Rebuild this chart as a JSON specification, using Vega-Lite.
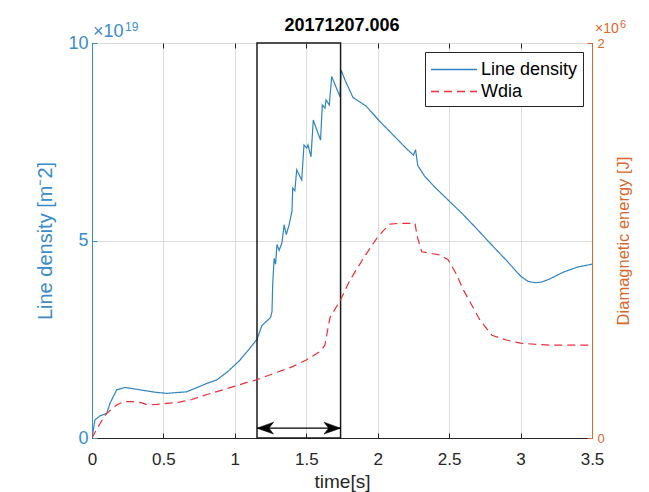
{
  "$schema": "https://vega.github.io/schema/vega-lite/v6.json",
  "width": 500,
  "height": 395,
  "autosize": "none",
  "padding": {"left": 92, "top": 43, "right": 57, "bottom": 54},
  "title": {"text": "20171207.006", "fontSize": 18, "fontWeight": "bold", "font": "Liberation Sans", "color": "#000000", "offset": -16},
  "config": {
    "font": "Liberation Sans",
    "view": {"stroke": "#000000", "strokeWidth": 1},
    "axis": {"labelFont": "Liberation Sans", "titleFont": "Liberation Sans", "titleFontWeight": "normal"}
  },
  "datasets": {
    "density": [
      {"t": 0, "v": 0, "series": "Line density"},
      {"t": 0.021, "v": 0.46, "series": "Line density"},
      {"t": 0.056, "v": 0.56, "series": "Line density"},
      {"t": 0.103, "v": 0.625, "series": "Line density"},
      {"t": 0.126, "v": 0.88, "series": "Line density"},
      {"t": 0.173, "v": 1.22, "series": "Line density"},
      {"t": 0.231, "v": 1.28, "series": "Line density"},
      {"t": 0.336, "v": 1.22, "series": "Line density"},
      {"t": 0.44, "v": 1.16, "series": "Line density"},
      {"t": 0.523, "v": 1.13, "series": "Line density"},
      {"t": 0.663, "v": 1.17, "series": "Line density"},
      {"t": 0.803, "v": 1.38, "series": "Line density"},
      {"t": 0.873, "v": 1.47, "series": "Line density"},
      {"t": 0.95, "v": 1.68, "series": "Line density"},
      {"t": 1.03, "v": 1.95, "series": "Line density"},
      {"t": 1.1, "v": 2.25, "series": "Line density"},
      {"t": 1.155, "v": 2.5, "series": "Line density"},
      {"t": 1.17, "v": 2.65, "series": "Line density"},
      {"t": 1.19, "v": 2.85, "series": "Line density"},
      {"t": 1.22, "v": 2.95, "series": "Line density"},
      {"t": 1.25, "v": 3.05, "series": "Line density"},
      {"t": 1.26, "v": 3.2, "series": "Line density"},
      {"t": 1.265, "v": 3.9, "series": "Line density"},
      {"t": 1.275, "v": 4.55, "series": "Line density"},
      {"t": 1.285, "v": 4.4, "series": "Line density"},
      {"t": 1.295, "v": 4.9, "series": "Line density"},
      {"t": 1.31, "v": 4.75, "series": "Line density"},
      {"t": 1.33, "v": 4.95, "series": "Line density"},
      {"t": 1.345, "v": 5.4, "series": "Line density"},
      {"t": 1.36, "v": 5.15, "series": "Line density"},
      {"t": 1.38, "v": 5.4, "series": "Line density"},
      {"t": 1.4, "v": 5.75, "series": "Line density"},
      {"t": 1.405, "v": 6.33, "series": "Line density"},
      {"t": 1.42, "v": 6.26, "series": "Line density"},
      {"t": 1.433, "v": 6.79, "series": "Line density"},
      {"t": 1.468, "v": 6.53, "series": "Line density"},
      {"t": 1.484, "v": 7.42, "series": "Line density"},
      {"t": 1.503, "v": 7.34, "series": "Line density"},
      {"t": 1.512, "v": 7.42, "series": "Line density"},
      {"t": 1.533, "v": 7.12, "series": "Line density"},
      {"t": 1.549, "v": 8.05, "series": "Line density"},
      {"t": 1.6, "v": 7.54, "series": "Line density"},
      {"t": 1.612, "v": 8.43, "series": "Line density"},
      {"t": 1.631, "v": 8.35, "series": "Line density"},
      {"t": 1.638, "v": 8.56, "series": "Line density"},
      {"t": 1.661, "v": 8.43, "series": "Line density"},
      {"t": 1.678, "v": 9.15, "series": "Line density"},
      {"t": 1.736, "v": 8.64, "series": "Line density"},
      {"t": 1.743, "v": 9.32, "series": "Line density"},
      {"t": 1.771, "v": 9.06, "series": "Line density"},
      {"t": 1.827, "v": 8.62, "series": "Line density"},
      {"t": 1.92, "v": 8.4, "series": "Line density"},
      {"t": 2.016, "v": 8.01, "series": "Line density"},
      {"t": 2.1, "v": 7.7, "series": "Line density"},
      {"t": 2.2, "v": 7.33, "series": "Line density"},
      {"t": 2.25, "v": 7.16, "series": "Line density"},
      {"t": 2.265, "v": 7.3, "series": "Line density"},
      {"t": 2.28, "v": 6.9, "series": "Line density"},
      {"t": 2.33, "v": 6.62, "series": "Line density"},
      {"t": 2.4, "v": 6.35, "series": "Line density"},
      {"t": 2.5, "v": 6.0, "series": "Line density"},
      {"t": 2.6, "v": 5.65, "series": "Line density"},
      {"t": 2.7, "v": 5.27, "series": "Line density"},
      {"t": 2.8, "v": 4.88, "series": "Line density"},
      {"t": 2.9, "v": 4.5, "series": "Line density"},
      {"t": 3.0, "v": 4.1, "series": "Line density"},
      {"t": 3.05, "v": 3.97, "series": "Line density"},
      {"t": 3.1, "v": 3.93, "series": "Line density"},
      {"t": 3.15, "v": 3.95, "series": "Line density"},
      {"t": 3.2, "v": 4.02, "series": "Line density"},
      {"t": 3.3, "v": 4.2, "series": "Line density"},
      {"t": 3.4, "v": 4.33, "series": "Line density"},
      {"t": 3.5, "v": 4.4, "series": "Line density"}
    ],
    "wdia": [
      {"t": 0, "v": 0, "series": "Wdia"},
      {"t": 0.03, "v": 0.04, "series": "Wdia"},
      {"t": 0.07, "v": 0.09, "series": "Wdia"},
      {"t": 0.103, "v": 0.125, "series": "Wdia"},
      {"t": 0.173, "v": 0.167, "series": "Wdia"},
      {"t": 0.22, "v": 0.184, "series": "Wdia"},
      {"t": 0.289, "v": 0.184, "series": "Wdia"},
      {"t": 0.35, "v": 0.178, "series": "Wdia"},
      {"t": 0.39, "v": 0.167, "series": "Wdia"},
      {"t": 0.45, "v": 0.17, "series": "Wdia"},
      {"t": 0.52, "v": 0.175, "series": "Wdia"},
      {"t": 0.6, "v": 0.18, "series": "Wdia"},
      {"t": 0.7, "v": 0.195, "series": "Wdia"},
      {"t": 0.756, "v": 0.209, "series": "Wdia"},
      {"t": 0.85, "v": 0.23, "series": "Wdia"},
      {"t": 0.99, "v": 0.26, "series": "Wdia"},
      {"t": 1.08, "v": 0.28, "series": "Wdia"},
      {"t": 1.15, "v": 0.294, "series": "Wdia"},
      {"t": 1.3, "v": 0.334, "series": "Wdia"},
      {"t": 1.4, "v": 0.36, "series": "Wdia"},
      {"t": 1.5, "v": 0.395, "series": "Wdia"},
      {"t": 1.6, "v": 0.44, "series": "Wdia"},
      {"t": 1.63, "v": 0.47, "series": "Wdia"},
      {"t": 1.666, "v": 0.61, "series": "Wdia"},
      {"t": 1.74, "v": 0.7, "series": "Wdia"},
      {"t": 1.806, "v": 0.8, "series": "Wdia"},
      {"t": 1.9, "v": 0.91, "series": "Wdia"},
      {"t": 1.993, "v": 1.011, "series": "Wdia"},
      {"t": 2.04, "v": 1.05, "series": "Wdia"},
      {"t": 2.086, "v": 1.083, "series": "Wdia"},
      {"t": 2.15, "v": 1.087, "series": "Wdia"},
      {"t": 2.261, "v": 1.087, "series": "Wdia"},
      {"t": 2.277, "v": 1.019, "series": "Wdia"},
      {"t": 2.308, "v": 0.943, "series": "Wdia"},
      {"t": 2.37, "v": 0.935, "series": "Wdia"},
      {"t": 2.436, "v": 0.927, "series": "Wdia"},
      {"t": 2.494, "v": 0.901, "series": "Wdia"},
      {"t": 2.55, "v": 0.83, "series": "Wdia"},
      {"t": 2.6, "v": 0.749, "series": "Wdia"},
      {"t": 2.716, "v": 0.597, "series": "Wdia"},
      {"t": 2.8, "v": 0.52, "series": "Wdia"},
      {"t": 2.9, "v": 0.496, "series": "Wdia"},
      {"t": 3.0, "v": 0.48, "series": "Wdia"},
      {"t": 3.2, "v": 0.47, "series": "Wdia"},
      {"t": 3.5, "v": 0.47, "series": "Wdia"}
    ],
    "window": [{"t0": 1.155, "t1": 1.74, "v0": 0, "v1": 10, "va": 0.25}],
    "expLeft": [{"t": 0, "v": 10, "base": "×10", "power": "19"}],
    "expRight": [{"t": 3.5, "v": 2, "base": "×10", "power": "6"}]
  },
  "layer": [
    {
      "layer": [
        {
          "data": {"name": "density"},
          "mark": {"type": "line", "strokeWidth": 1.2, "clip": true},
          "encoding": {
            "x": {
              "field": "t", "type": "quantitative",
              "scale": {"domain": [0, 3.5], "nice": false, "zero": false},
              "axis": {
                "orient": "bottom", "values": [0, 0.5, 1, 1.5, 2, 2.5, 3, 3.5], "format": "~g",
                "title": "time[s]", "titleFontSize": 19, "titleColor": "#262626", "titlePadding": 5,
                "labelFontSize": 17, "labelColor": "#262626", "labelPadding": 18,
                "tickSize": -5, "tickColor": "#262626", "domainColor": "#262626",
                "grid": true, "gridColor": "#dcdcdc", "labelFlush": false
              }
            },
            "y": {
              "field": "v", "type": "quantitative",
              "scale": {"domain": [0, 10], "nice": false},
              "axis": {
                "orient": "left", "values": [0, 5, 10], "format": "d",
                "title": "Line density [m⁻2]", "titleFontSize": 20, "titleColor": "#3a8dc8", "titlePadding": 12,
                "labelFontSize": 18, "labelColor": "#3a8dc8", "labelPadding": 9,
                "tickSize": -5, "tickColor": "#3a8dc8", "domainColor": "#3a8dc8",
                "grid": true, "gridColor": "#dcdcdc"
              }
            },
            "color": {
              "field": "series", "type": "nominal",
              "scale": {"domain": ["Line density", "Wdia"], "range": ["#2f84c4", "#ec2f3a"]},
              "legend": {
                "title": null, "orient": "top-right", "offset": 9,
                "strokeColor": "#262626", "fillColor": "#ffffff", "padding": 5,
                "labelFontSize": 18, "labelColor": "#000000", "labelFont": "Liberation Sans",
                "symbolType": "M-1,0 L3,0", "symbolSize": 529, "symbolStrokeWidth": 1.3,
                "rowPadding": 0, "labelOffset": 26
              }
            },
            "strokeDash": {
              "field": "series", "type": "nominal",
              "scale": {"domain": ["Line density", "Wdia"], "range": [[1, 0], [8, 5]]},
              "legend": {
                "title": null, "orient": "top-right", "offset": 9,
                "strokeColor": "#262626", "fillColor": "#ffffff", "padding": 5,
                "labelFontSize": 18, "labelColor": "#000000", "labelFont": "Liberation Sans",
                "symbolType": "M-1,0 L3,0", "symbolSize": 529, "symbolStrokeWidth": 1.3,
                "rowPadding": 0, "labelOffset": 26
              }
            }
          }
        },
        {
          "data": {"name": "window"},
          "mark": {"type": "rect", "fill": null, "fillOpacity": 0, "stroke": "#1a1a1a", "strokeWidth": 1.5},
          "encoding": {
            "x": {"field": "t0", "type": "quantitative"},
            "x2": {"field": "t1"},
            "y": {"field": "v0", "type": "quantitative"},
            "y2": {"field": "v1"}
          }
        },
        {
          "data": {"name": "window"},
          "mark": {"type": "rule", "stroke": "#000000", "strokeWidth": 1.3},
          "encoding": {
            "x": {"field": "t0", "type": "quantitative"},
            "x2": {"field": "t1"},
            "y": {"field": "va", "type": "quantitative"}
          }
        },
        {
          "data": {"name": "window"},
          "mark": {"type": "point", "shape": "M0,0 L1,-0.36 L0.72,0 L1,0.36 Z", "size": 1100, "filled": true, "fill": "#000000", "stroke": "#000000", "strokeWidth": 0.5, "opacity": 1},
          "encoding": {
            "x": {"field": "t0", "type": "quantitative"},
            "y": {"field": "va", "type": "quantitative"}
          }
        },
        {
          "data": {"name": "window"},
          "mark": {"type": "point", "shape": "M0,0 L-1,-0.36 L-0.72,0 L-1,0.36 Z", "size": 1100, "filled": true, "fill": "#000000", "stroke": "#000000", "strokeWidth": 0.5, "opacity": 1},
          "encoding": {
            "x": {"field": "t1", "type": "quantitative"},
            "y": {"field": "va", "type": "quantitative"}
          }
        },
        {
          "data": {"name": "expLeft"},
          "mark": {"type": "text", "align": "left", "baseline": "alphabetic", "dx": 1, "dy": -6, "fontSize": 18, "color": "#3a8dc8", "clip": false},
          "encoding": {
            "x": {"field": "t", "type": "quantitative"},
            "y": {"field": "v", "type": "quantitative"},
            "text": {"field": "base"}
          }
        },
        {
          "data": {"name": "expLeft"},
          "mark": {"type": "text", "align": "left", "baseline": "alphabetic", "dx": 33, "dy": -12, "fontSize": 12, "color": "#3a8dc8", "clip": false},
          "encoding": {
            "x": {"field": "t", "type": "quantitative"},
            "y": {"field": "v", "type": "quantitative"},
            "text": {"field": "power"}
          }
        }
      ]
    },
    {
      "layer": [
        {
          "data": {"name": "wdia"},
          "mark": {"type": "line", "strokeWidth": 1.2, "clip": true},
          "encoding": {
            "x": {
              "field": "t", "type": "quantitative",
              "axis": {
                "orient": "top", "values": [0, 0.5, 1, 1.5, 2, 2.5, 3, 3.5],
                "labels": false, "title": null, "domain": false, "grid": false,
                "tickSize": -5, "tickColor": "#262626"
              }
            },
            "y": {
              "field": "v", "type": "quantitative",
              "scale": {"domain": [0, 2], "nice": false},
              "axis": {
                "orient": "right", "values": [0, 1, 2], "format": "d",
                "title": "Diamagnetic energy [J]", "titleFontSize": 16.5, "titleColor": "#d9682a", "titlePadding": 27, "titleAngle": 270,
                "labelFontSize": 13, "labelColor": "#d9682a", "labelPadding": 10,
                "tickSize": -5, "tickColor": "#d9682a", "domainColor": "#d9682a",
                "grid": false
              }
            },
            "color": {"field": "series", "type": "nominal"},
            "strokeDash": {"field": "series", "type": "nominal"}
          }
        },
        {
          "data": {"name": "expRight"},
          "mark": {"type": "text", "align": "left", "baseline": "alphabetic", "dx": 3, "dy": -10, "fontSize": 14, "color": "#d9682a", "clip": false},
          "encoding": {
            "x": {"field": "t", "type": "quantitative"},
            "y": {"field": "v", "type": "quantitative"},
            "text": {"field": "base"}
          }
        },
        {
          "data": {"name": "expRight"},
          "mark": {"type": "text", "align": "left", "baseline": "alphabetic", "dx": 28, "dy": -15, "fontSize": 11, "color": "#d9682a", "clip": false},
          "encoding": {
            "x": {"field": "t", "type": "quantitative"},
            "y": {"field": "v", "type": "quantitative"},
            "text": {"field": "power"}
          }
        }
      ]
    }
  ],
  "resolve": {"scale": {"y": "independent"}, "axis": {"x": "independent"}}
}
